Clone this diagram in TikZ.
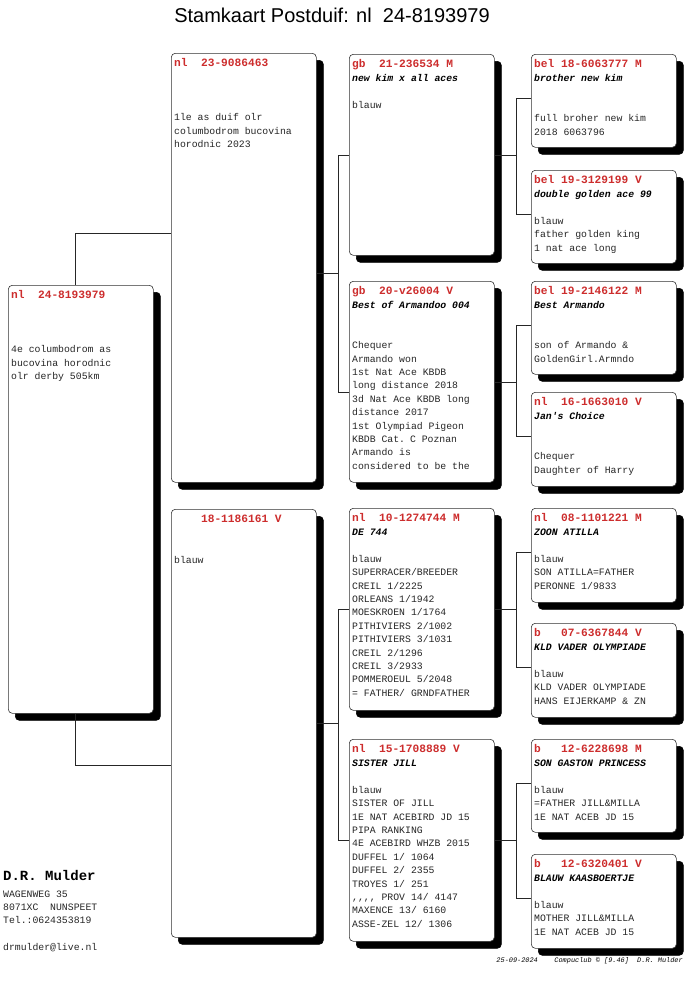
\documentclass[tikz,border=0pt]{standalone}
\usepackage{fontspec}
\setmainfont{Liberation Serif}
\setsansfont{Liberation Sans}
\setmonofont{Liberation Mono}
\usetikzlibrary{shadows}

\definecolor{ringred}{RGB}{205,45,45}
\newcommand{\vast}{\spaceskip=0.6em\relax}
\newcommand{\ring}[1]{{\fontsize{11.2}{13.4}\selectfont\vast\bfseries\color{ringred}#1}\\[1pt]}
\newcommand{\naam}[1]{{\bfseries\itshape\color{black}#1}}
\newcommand{\leeg}{\mbox{}}

\begin{document}
\begin{tikzpicture}[x=1pt, y=-1pt,
    card/.style={draw=black!80, line width=0.6pt, fill=white, rounded corners=4pt,
      minimum width=145pt, inner sep=0pt, anchor=north west,
      copy shadow={fill=black, draw=black, shadow xshift=7pt, shadow yshift=-7pt}},
    info/.style={anchor=base west, text width=140pt, align=left, inner sep=0pt,
      font=\ttfamily\fontsize{9.8}{13.4}\selectfont, text=black!85,
      execute at begin node=\vast},
    edge/.style={draw=black!85, line width=0.6pt},
    title/.style={font=\sffamily\fontsize{20}{24}\selectfont},
]
\useasboundingbox (0,0) rectangle (685,983);

\node[title] (kop) at (332,15) {Stamkaart Postduif: nl~~24-8193979};

% Duif
\node[card, minimum height=428pt] (duif) at (8,285) {};
\node[info] (duif-t) at ([shift={(3,13)}]duif.north west)
  {\ring{nl~~24-8193979}\leeg\\\leeg\\\leeg\\4e columbodrom as\\bucovina horodnic\\olr derby 505km};

% Ouders
\node[card, minimum height=429pt] (vader) at (171,53) {};
\node[info] (vader-t) at ([shift={(3,13)}]vader.north west)
  {\ring{nl~~23-9086463}\leeg\\\leeg\\\leeg\\1le as duif olr\\columbodrom bucovina\\horodnic 2023};
\node[card, minimum height=428pt] (moeder) at (171,509) {};
\node[info] (moeder-t) at ([shift={(3,13)}]moeder.north west)
  {\ring{~~~~18-1186161~V}\leeg\\\leeg\\blauw};

% Grootouders
\node[card, minimum height=201pt] (vv) at (349,54) {};
\node[info] (vv-t) at ([shift={(3,13)}]vv.north west)
  {\ring{gb~~21-236534~M}\naam{new kim x all aces}\\\leeg\\blauw};
\node[card, minimum height=201pt] (vm) at (349,281) {};
\node[info] (vm-t) at ([shift={(3,13)}]vm.north west)
  {\ring{gb~~20-v26004~V}\naam{Best of Armandoo 004}\\\leeg\\\leeg\\Chequer\\Armando won\\1st Nat Ace KBDB\\long distance 2018\\3d Nat Ace KBDB long\\distance 2017\\1st Olympiad Pigeon\\KBDB Cat. C Poznan\\Armando is\\considered to be the};
\node[card, minimum height=202pt] (mv) at (349,508) {};
\node[info] (mv-t) at ([shift={(3,13)}]mv.north west)
  {\ring{nl~~10-1274744~M}\naam{DE 744}\\\leeg\\blauw\\SUPERRACER/BREEDER\\CREIL 1/2225\\ORLEANS 1/1942\\MOESKROEN 1/1764\\PITHIVIERS 2/1002\\PITHIVIERS 3/1031\\CREIL 2/1296\\CREIL 3/2933\\POMMEROEUL 5/2048\\= FATHER/ GRNDFATHER};
\node[card, minimum height=202pt] (mm) at (349,739) {};
\node[info] (mm-t) at ([shift={(3,13)}]mm.north west)
  {\ring{nl~~15-1708889~V}\naam{SISTER JILL}\\\leeg\\blauw\\SISTER OF JILL\\1E NAT ACEBIRD JD 15\\PIPA RANKING\\4E ACEBIRD WHZB 2015\\DUFFEL 1/ 1064\\DUFFEL 2/ 2355\\TROYES 1/ 251\\{,}{,}{,}{,} PROV 14/ 4147\\MAXENCE 13/ 6160\\ASSE-ZEL 12/ 1306};

% Overgrootouders
\node[card, minimum height=93pt] (vvv) at (531,54) {};
\node[info] (vvv-t) at ([shift={(3,13)}]vvv.north west)
  {\ring{bel~18-6063777~M}\naam{brother new kim}\\\leeg\\\leeg\\full broher new kim\\2018 6063796};
\node[card, minimum height=93pt] (vvm) at (531,170) {};
\node[info] (vvm-t) at ([shift={(3,13)}]vvm.north west)
  {\ring{bel~19-3129199~V}\naam{double golden ace 99}\\\leeg\\blauw\\father golden king\\1 nat ace long};
\node[card, minimum height=93pt] (vmv) at (531,281) {};
\node[info] (vmv-t) at ([shift={(3,13)}]vmv.north west)
  {\ring{bel~19-2146122~M}\naam{Best Armando}\\\leeg\\\leeg\\son of Armando \&\\GoldenGirl.Armndo};
\node[card, minimum height=94pt] (vmm) at (531,392) {};
\node[info] (vmm-t) at ([shift={(3,13)}]vmm.north west)
  {\ring{nl~~16-1663010~V}\naam{Jan's Choice}\\\leeg\\\leeg\\Chequer\\Daughter of Harry};
\node[card, minimum height=94pt] (mvv) at (531,508) {};
\node[info] (mvv-t) at ([shift={(3,13)}]mvv.north west)
  {\ring{nl~~08-1101221~M}\naam{ZOON ATILLA}\\\leeg\\blauw\\SON ATILLA=FATHER\\PERONNE 1/9833};
\node[card, minimum height=94pt] (mvm) at (531,623) {};
\node[info] (mvm-t) at ([shift={(3,13)}]mvm.north west)
  {\ring{b~~~07-6367844~V}\naam{KLD VADER OLYMPIADE}\\\leeg\\blauw\\KLD VADER OLYMPIADE\\HANS EIJERKAMP \& ZN};
\node[card, minimum height=93pt] (mmv) at (531,739) {};
\node[info] (mmv-t) at ([shift={(3,13)}]mmv.north west)
  {\ring{b~~~12-6228698~M}\naam{SON GASTON PRINCESS}\\\leeg\\blauw\\=FATHER JILL\&MILLA\\1E NAT ACEB JD 15};
\node[card, minimum height=94pt] (mmm) at (531,854) {};
\node[info] (mmm-t) at ([shift={(3,13)}]mmm.north west)
  {\ring{b~~~12-6320401~V}\naam{BLAUW KAASBOERTJE}\\\leeg\\blauw\\MOTHER JILL\&MILLA\\1E NAT ACEB JD 15};

% Lijnen
\draw[edge] ([xshift=-5.5pt]duif.north) |- ([yshift=34.5pt]vader.west);
\draw[edge] ([xshift=-5.5pt]duif.south) |- ([yshift=-42pt]moeder.west);

\draw[edge] ([yshift=-5.5pt]vader.east) -- ++(22,0);
\draw[edge] (vv.west) -- ++(-11,0) |- ([yshift=-10.5pt]vm.west);
\draw[edge] (moeder.east) -- ++(22,0);
\draw[edge] (mv.west) -- ++(-11,0) |- (mm.west);

\draw[edge] (vv.east) -- ++(22,0);
\draw[edge] ([yshift=3pt]vvv.west) -- ++(-15,0) |- ([yshift=3pt]vvm.west);
\draw[edge] (vm.east) -- ++(22,0);
\draw[edge] ([yshift=3pt]vmv.west) -- ++(-15,0) |- ([yshift=3pt]vmm.west);
\draw[edge] (mv.east) -- ++(22,0);
\draw[edge] ([yshift=3pt]mvv.west) -- ++(-15,0) |- ([yshift=3pt]mvm.west);
\draw[edge] (mm.east) -- ++(22,0);
\draw[edge] ([yshift=3pt]mmv.west) -- ++(-15,0) |- ([yshift=3pt]mmm.west);

% Kweker
\node[font=\ttfamily\bfseries\fontsize{14}{16}\selectfont\vast, anchor=base west, inner sep=0pt] (kweker) at (3,880) {D.R. Mulder};
\node[info, text width=120pt] (adres) at (3,897) {WAGENWEG 35\\8071XC~~NUNSPEET\\Tel.:0624353819\\\leeg\\drmulder@live.nl};
\node[font=\ttfamily\itshape\fontsize{6.9}{8}\selectfont\vast, anchor=base east, inner sep=0pt] (stempel) at (683,962) {25-09-2024~~~~Compuclub © [9.46]~~D.R. Mulder};

\end{tikzpicture}
\end{document}
